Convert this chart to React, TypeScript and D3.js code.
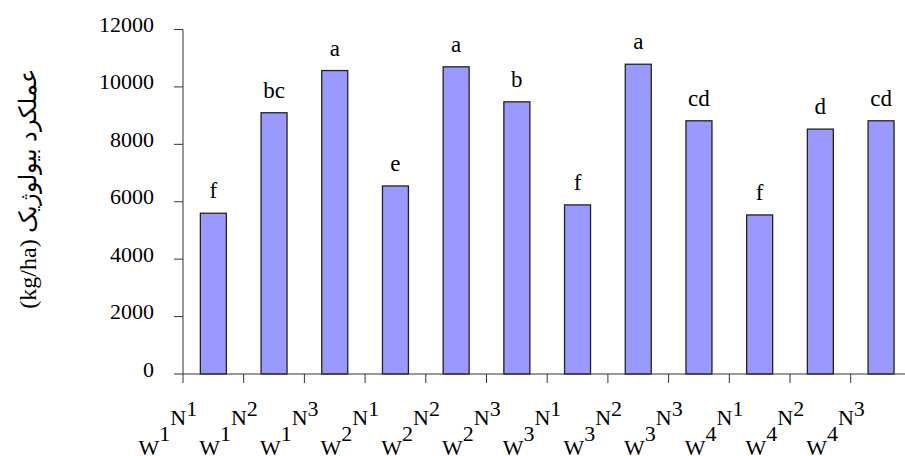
import { useRef, useEffect } from "react";
import * as d3 from "d3";

// treatment levels per bar (W = irrigation, N = nitrogen)
const wLevels = ["1", "1", "1", "2", "2", "2", "3", "3", "3", "4", "4", "4"];
const nLevels = ["1", "2", "3", "1", "2", "3", "1", "2", "3", "1", "2", "3"];
const yieldValues = [5600, 9100, 10570, 6550, 10700, 9480, 5890, 10790, 8820, 5540, 8530, 8820];
const groupLetters = ["f", "bc", "a", "e", "a", "b", "f", "a", "cd", "f", "d", "cd"];
const yTicks = [0, 2000, 4000, 6000, 8000, 10000, 12000];
const yUnit = "(kg/ha) ";
const yTitle = "عملکرد بیولوژیک";

const W = 905;
const H = 456;
const FONT = "'Liberation Serif', 'Times New Roman', 'DejaVu Serif', serif";

export default function App() {
  const svgRef = useRef<SVGSVGElement | null>(null);

  useEffect(() => {
    const svg = d3.select(svgRef.current);
    svg.selectAll("*").remove();

    const cats = wLevels.map((w, i) => `W${w}N${nLevels[i]}`);
    const left = 183;
    const step = 60.7;

    const x = d3
      .scaleBand<string>()
      .domain(cats)
      .range([left, left + step * cats.length])
      .padding(0);
    const y = d3.scaleLinear().domain([0, 12000]).range([374, 29.5]);

    const barW = x.bandwidth() * 0.428;

    // bars
    svg
      .append("g")
      .selectAll("rect")
      .data(yieldValues)
      .join("rect")
      .attr("x", (_, i) => (x(cats[i]) as number) + (x.bandwidth() - barW) / 2)
      .attr("y", (d) => y(d))
      .attr("width", barW)
      .attr("height", (d) => y(0) - y(d))
      .attr("fill", "#9999ff")
      .attr("stroke", "#222")
      .attr("stroke-width", 1.3);

    // letters above bars
    svg
      .append("g")
      .selectAll("text")
      .data(yieldValues)
      .join("text")
      .attr("x", (_, i) => (x(cats[i]) as number) + x.bandwidth() / 2)
      .attr("y", (d) => y(d) - 15)
      .attr("text-anchor", "middle")
      .attr("font-family", FONT)
      .attr("font-size", "23px")
      .attr("fill", "#000")
      .text((_, i) => groupLetters[i]);

    // y axis
    const ya = svg.append("g").attr("stroke", "#333").attr("stroke-width", 1);
    ya.append("line")
      .attr("x1", left)
      .attr("x2", left)
      .attr("y1", y(12000))
      .attr("y2", y(0));
    yTicks.forEach((t) => {
      ya.append("line")
        .attr("x1", left - 9)
        .attr("x2", left)
        .attr("y1", y(t))
        .attr("y2", y(t));
    });
    svg
      .append("g")
      .selectAll("text")
      .data(yTicks)
      .join("text")
      .attr("x", left - 29)
      .attr("y", (d) => y(d) + 2.5)
      .attr("text-anchor", "end")
      .attr("font-family", FONT)
      .attr("font-size", "22px")
      .attr("fill", "#000")
      .text((d) => String(d));

    // x axis
    const xa = svg.append("g").attr("stroke", "#333").attr("stroke-width", 1);
    xa.append("line")
      .attr("x1", left)
      .attr("x2", left + step * cats.length)
      .attr("y1", y(0))
      .attr("y2", y(0));
    cats.forEach((c) => {
      const tx = x(c) as number;
      xa.append("line")
        .attr("x1", tx)
        .attr("x2", tx)
        .attr("y1", y(0))
        .attr("y2", y(0) + 9);
    });

    // stepped category labels: W^1 N^1
    cats.forEach((c, i) => {
      const tx = (x(c) as number) - 44.5;
      const t = svg
        .append("text")
        .attr("x", tx)
        .attr("y", 455)
        .attr("font-family", FONT)
        .attr("font-size", "22px")
        .attr("fill", "#000");
      t.append("tspan").text("W");
      t.append("tspan").attr("dy", -14).text(wLevels[i]);
      t.append("tspan").attr("dy", -16).text("N");
      t.append("tspan").attr("dy", -9).text(nLevels[i]);
    });

    // y title
    const yt = svg
      .append("text")
      .attr("transform", "translate(36,189) rotate(-90)")
      .attr("text-anchor", "middle")
      .attr("font-family", FONT)
      .attr("font-size", "24px")
      .attr("fill", "#000");
    yt.append("tspan").text(yUnit);
    yt.append("tspan").text(yTitle);
  }, []);

  return (
    <svg
      ref={svgRef}
      width={W}
      height={H}
      style={{ position: "absolute", left: 0, top: 0, background: "#fff" }}
    />
  );
}
